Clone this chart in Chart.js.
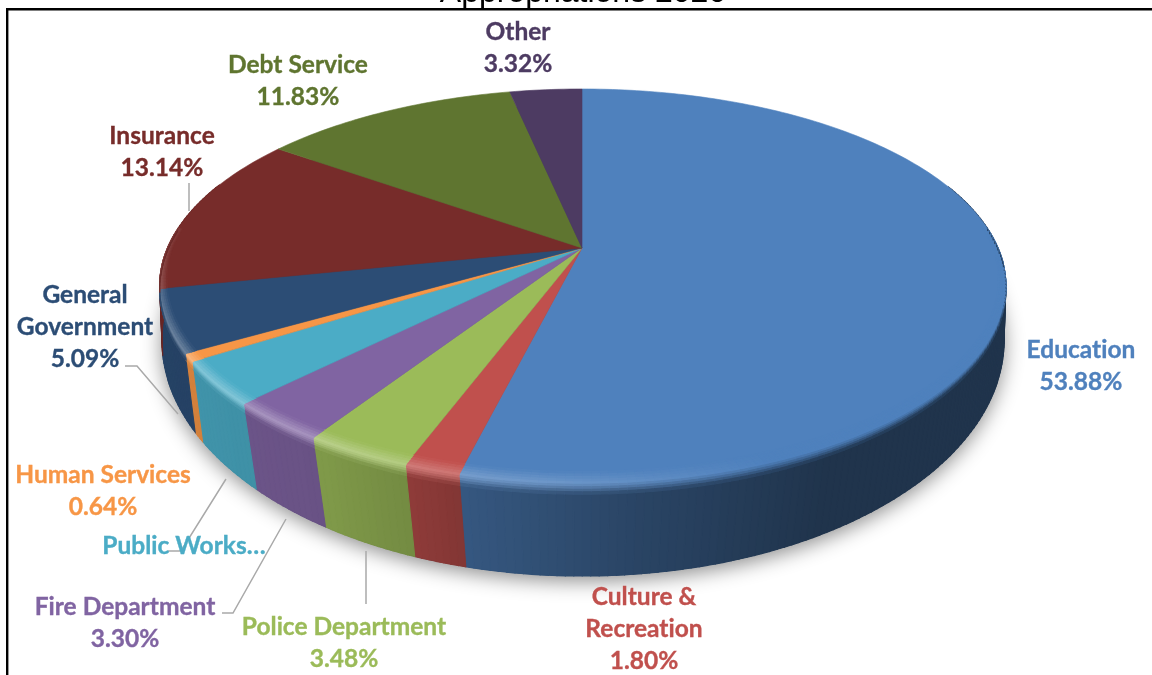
<!DOCTYPE html>
<html>
<head>
<meta charset="utf-8">
<title>Appropriations 2020</title>
<script src="https://cdn.jsdelivr.net/npm/chart.js@4/dist/chart.umd.min.js"></script>
<style>
html,body{margin:0;padding:0;background:#fff;overflow:hidden}
canvas{display:block}
</style>
</head>
<body>
<canvas id="pie" width="1152" height="675"></canvas>
<script>
// Budget shares, clockwise from twelve o'clock
const categories = ["Education","Culture & Recreation","Police Department","Fire Department","Public Works","Human Services","General Government","Insurance","Debt Service","Other"];
const shares = [53.88,1.80,3.48,3.30,3.52,0.64,5.09,13.14,11.83,3.32];
const faceColors = ["#4f81bd","#c0504d","#9bbb59","#8064a2","#4bacc6","#f79646","#2c4d75","#772c2a","#5f7530","#4d3b62"];
const titleText = "Appropriations 2020";
const labelFont = 'bold 24.5px Lato, "Open Sans", sans-serif';

// One entry per label: text lines and centre of the first line
const labelBlocks = [
  {series:0, lines:["Education","53.88%"], x:1081, y:350},
  {series:1, lines:["Culture &","Recreation","1.80%"], x:644, y:597},
  {series:2, lines:["Police Department","3.48%"], x:344, y:627},
  {series:3, lines:["Fire Department","3.30%"], x:125, y:607},
  {series:4, lines:["Public Works\u2026"], x:184, y:546},
  {series:5, lines:["Human Services","0.64%"], x:103, y:475},
  {series:6, lines:["General","Government","5.09%"], x:85, y:295},
  {series:7, lines:["Insurance","13.14%"], x:162, y:136},
  {series:8, lines:["Debt Service","11.83%"], x:298, y:65},
  {series:9, lines:["Other","3.32%"], x:518, y:32}
];
const leaderLines = [
  [[189,183],[189,211]],
  [[125,366],[137,366],[178,414]],
  [[168,551],[181,551],[226,479]],
  [[222,613],[233,613],[286,519]],
  [[366,551],[366,604]]
];

// Perspective of the disc: a unit circle seen from above and in front
const topPlane = {apexX:582, apexY:248, a:416, aLeft:414.5, b:189.7, k:-0.193};
const basePlane = {apexX:582, apexY:307, a:418, aLeft:416, b:231.4, k:-0.14};

function project(plane, theta, r){
  const u = Math.sin(theta)*r, v = -Math.cos(theta)*r;
  const w = 1 + plane.k*v;
  return [plane.apexX + (u<0?plane.aLeft:plane.a)*u/w, plane.apexY + plane.b*v/w];
}
function hexRgb(h){return [1,3,5].map(i=>parseInt(h.substr(i,2),16));}
function mix(c,d,t){return c.map((x,i)=>x+(d[i]-x)*t);}
function css(c){return "rgb("+c.map(Math.round).join(",")+")";}
function table(rows,x){
  if(x<=rows[0][0])return rows[0][1];
  for(let i=1;i<rows.length;i++){
    if(x<=rows[i][0]){
      const t=(x-rows[i-1][0])/(rows[i][0]-rows[i-1][0]);
      return rows[i-1][1]+(rows[i][1]-rows[i-1][1])*t;
    }
  }
  return rows[rows.length-1][1];
}
// Side-wall brightness and rim highlight as the disc turns (degrees clockwise from the top)
const wallLight = [[100,.40],[150,.40],[172,.52],[194,.68],[200,.74],[212,.82],[238,.86],[285,.88]];
const rimGlow = [[158,0],[185,.6],[215,1],[245,1],[270,.45],[292,0]];

function wallColor(base,deg){return base.map(x=>x*table(wallLight,deg));}

function quad(ctx,a,b,c,d,color){
  ctx.fillStyle=color;ctx.strokeStyle=color;ctx.lineWidth=1.1;
  ctx.beginPath();ctx.moveTo(a[0],a[1]);ctx.lineTo(b[0],b[1]);ctx.lineTo(c[0],c[1]);ctx.lineTo(d[0],d[1]);
  ctx.closePath();ctx.fill();ctx.stroke();
}
function lerpPt(p,q,t){return [p[0]+(q[0]-p[0])*t,p[1]+(q[1]-p[1])*t];}

const discPlugin = {
  id:"disc3d",
  beforeDatasetsDraw(chart){
    const ctx=chart.ctx, arcs=chart.getDatasetMeta(0).data;
    const STEP=Math.PI/180, HALF=Math.PI/2;
    const slices=arcs.map((arc,i)=>({
      from:arc.startAngle+HALF, to:arc.endAngle+HALF, base:hexRgb(faceColors[i])
    }));
    const sweep=s=>{
      const n=Math.max(2,Math.ceil((s.to-s.from)/STEP)),o=[];
      for(let j=0;j<=n;j++)o.push(s.from+(s.to-s.from)*j/n);
      return o;
    };
    // Soft shadow cast under the disc
    ctx.save();
    ctx.shadowColor="rgba(0,0,0,.45)";ctx.shadowBlur=20;ctx.shadowOffsetY=5;
    ctx.fillStyle="#24405f";ctx.beginPath();
    for(let t=0;t<=360;t+=2){const p=project(basePlane,t*Math.PI/180,1);t?ctx.lineTo(p[0],p[1]):ctx.moveTo(p[0],p[1]);}
    ctx.closePath();ctx.fill();ctx.restore();
    // Side wall
    slices.forEach(s=>{
      const pts=sweep(s);
      for(let j=0;j<pts.length-1;j++){
        const a=pts[j],b=pts[j+1];
        if(Math.cos(a)>0.35)continue;
        const deg=(a+b)/2*180/Math.PI;
        quad(ctx,project(topPlane,a,1),project(topPlane,b,1),project(basePlane,b,1),project(basePlane,a,1),css(wallColor(s.base,deg)));
      }
    });
    // Flat top face
    slices.forEach(s=>{
      const c=css(s.base),pts=sweep(s);
      ctx.fillStyle=c;ctx.strokeStyle=c;ctx.lineWidth=.6;
      ctx.beginPath();ctx.moveTo(topPlane.apexX,topPlane.apexY);
      pts.forEach(t=>{const p=project(topPlane,t,1);ctx.lineTo(p[0],p[1]);});
      ctx.closePath();ctx.fill();ctx.stroke();
    });
    // Rounded rim between the face and the wall
    const ROWS=9;
    slices.forEach(s=>{
      const pts=sweep(s);
      for(let j=0;j<pts.length-1;j++){
        const a=pts[j],b=pts[j+1];
        const front=Math.max(0,-Math.cos((a+b)/2));
        if(Math.cos((a+b)/2)>0.1)continue;
        const deg=(a+b)/2*180/Math.PI;
        const glow=table(rimGlow,deg);
        const crest=mix(s.base,[255,255,255],.3*glow);
        const wall=wallColor(s.base,deg);
        const inset=.012+.028*front, drop=.05+.07*front;
        const edge=(t,q)=>{
          const inner=project(topPlane,t,1-inset);
          const outer=lerpPt(project(topPlane,t,1),project(basePlane,t,1),drop);
          const rim=project(topPlane,t,1);
          return q<.5?lerpPt(inner,rim,q/.5):lerpPt(rim,outer,(q-.5)/.5);
        };
        for(let r=0;r<ROWS;r++){
          const q0=r/ROWS,q1=(r+1)/ROWS,q=(q0+q1)/2;
          const col=q<.5?mix(s.base,crest,q/.5):mix(crest,wall,Math.pow((q-.5)/.5,1.3));
          quad(ctx,edge(a,q0),edge(b,q0),edge(b,q1),edge(a,q1),css(col));
        }
      }
    });
    return false;
  },
  afterDraw(chart){
    const ctx=chart.ctx;
    ctx.save();
    // Frame around the plot
    ctx.fillStyle="#000";
    ctx.fillRect(6,8,1146,2.5);
    ctx.fillRect(6,8,2.4,667);
    // Leader lines from labels to their slices
    ctx.strokeStyle="#a9a9a9";ctx.lineWidth=1.5;
    leaderLines.forEach(path=>{
      ctx.beginPath();
      path.forEach((p,i)=>i?ctx.lineTo(p[0],p[1]):ctx.moveTo(p[0],p[1]));
      ctx.stroke();
    });
    // Category and percentage labels
    ctx.font=labelFont;ctx.textAlign="center";ctx.textBaseline="middle";
    ctx.fontVariantLigatures="none";
    if("letterSpacing" in ctx)ctx.letterSpacing="0.01px";
    labelBlocks.forEach(b=>{
      ctx.fillStyle=faceColors[b.series];
      ctx.strokeStyle=faceColors[b.series];ctx.lineWidth=.35;
      b.lines.forEach((t,i)=>{ctx.fillText(t,b.x,b.y+i*32);ctx.strokeText(t,b.x,b.y+i*32);});
    });
    ctx.restore();
  }
};

new Chart(document.getElementById("pie"),{
  type:"pie",
  data:{labels:categories,datasets:[{data:shares,backgroundColor:faceColors,borderWidth:0}]},
  options:{
    responsive:false,animation:false,devicePixelRatio:1,
    layout:{padding:{left:14}},
    plugins:{
      legend:{display:false},tooltip:{enabled:false},
      title:{display:true,fullSize:false,text:titleText,color:"#000",
        font:{family:'"Liberation Sans", Arial, sans-serif',size:32,weight:"normal"},
        padding:{top:-26,bottom:0}}
    }
  },
  plugins:[discPlugin]
});
</script>
</body>
</html>
